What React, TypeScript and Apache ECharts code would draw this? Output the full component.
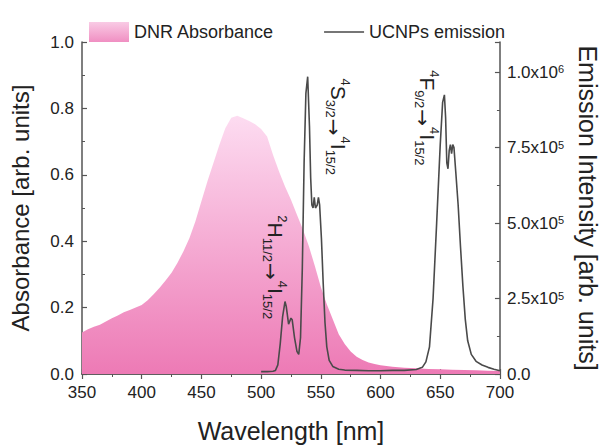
import React, { useEffect, useRef } from "react";
import * as echarts from "echarts";

// ---- Data ----
const absWavelengths = [
  350, 355, 360, 365, 370, 375, 380, 385, 390, 395, 400, 405, 410, 415, 420, 425, 430, 435, 440, 445,
  450, 455, 460, 465, 470, 475, 480, 485, 490, 495, 500, 505, 510, 515, 520, 525, 530, 535, 540, 545,
  550, 555, 560, 565, 570, 575, 580, 585, 590, 595, 600, 605, 610, 620, 630, 640, 650, 660, 670, 680,
  690, 700,
];
const absValues = [
  0.125, 0.135, 0.142, 0.148, 0.158, 0.168, 0.176, 0.186, 0.193, 0.2, 0.208, 0.222, 0.24, 0.26, 0.282,
  0.305, 0.335, 0.37, 0.41, 0.46, 0.52, 0.58, 0.635, 0.69, 0.74, 0.772, 0.778, 0.77, 0.762, 0.752, 0.738,
  0.715, 0.66, 0.61, 0.565, 0.525, 0.48, 0.435, 0.385, 0.325, 0.262, 0.21, 0.165, 0.12, 0.09, 0.068,
  0.052, 0.042, 0.035, 0.03, 0.026, 0.024, 0.022, 0.019, 0.017, 0.015, 0.014, 0.013, 0.012, 0.011, 0.01,
  0.009,
];

const emWavelengths = [
  500, 505, 510, 512, 514, 516, 518, 520, 521, 523, 525, 526, 528, 530, 531.5, 533, 534.5, 536, 537.5,
  539, 540.5, 541.5, 542.5, 543.5, 544.5, 545.5, 547, 548, 549, 550.5, 552, 553.5, 555, 557, 560, 565,
  570, 580, 590, 600, 610, 620, 630, 635, 638, 641, 644, 647, 650, 652, 653.5, 654.5, 655.5, 656.5,
  657.5, 658.5, 659.5, 660.5, 661.5, 663, 665, 667, 669, 671, 673, 676, 680, 685, 690, 695, 700,
];
const emValues = [
  8e3, 8e3, 9e3, 12e3, 30e3, 100e3, 190e3, 240e3, 225e3, 165e3, 185e3, 180e3, 120e3, 75e3, 65e3, 120e3,
  350e3, 700e3, 930e3, 985e3, 820e3, 650e3, 560e3, 550e3, 585e3, 550e3, 560e3, 585e3, 560e3, 450e3,
  300e3, 170e3, 90e3, 45e3, 25e3, 16e3, 13e3, 12e3, 11e3, 11e3, 12e3, 12e3, 15e3, 22e3, 40e3, 90e3,
  250e3, 500e3, 760e3, 900e3, 925e3, 850e3, 700e3, 680e3, 740e3, 760e3, 730e3, 760e3, 750e3, 670e3,
  560e3, 420e3, 290e3, 180e3, 110e3, 65e3, 42e3, 30e3, 22e3, 16e3, 11e3,
];

const xTicks = { min: 350, max: 700, interval: 50 };
const leftTicks = { min: 0, max: 1, interval: 0.2 };
const rightTicks = { min: 0, max: 1.1e6, interval: 2.5e5 };

// annotation anchors (top end of the rotated text): [wavelength, absorbance-axis value]
const annotations = [
  { pos: [564.5, 0.89], text: "{sup|4}{m|S}{sub|3/2}{arr|→}{sup|4}{m|I}{sub|15/2}" },
  { pos: [512, 0.478], text: "{sup|2}{m|H}{sub|11/2}{arr|→}{sup|4}{m|I}{sub|15/2}" },
  { pos: [639, 0.915], text: "{sup|4}{m|F}{sub|9/2}{arr|→}{sup|4}{m|I}{sub|15/2}" },
];

const FONT = "Liberation Sans, Arial, sans-serif";
const AXIS_COLOR = "#555";
const TEXT_COLOR = "#222";
const LINE_ICON = "path://M0,0h0.05v0.05h-0.05z M0,9.2h40v1.6h-40z M39.95,19.95h0.05v0.05h-0.05z";

export default function App() {
  const ref = useRef<HTMLDivElement>(null);

  useEffect(() => {
    if (!ref.current) return;
    const chart = echarts.init(ref.current, undefined, { renderer: "svg" });

    const pinkGrad = new echarts.graphic.LinearGradient(0, 0, 0, 1, [
      { offset: 0, color: "#fddcf1" },
      { offset: 1, color: "#ed7ab5" },
    ]);
    const legendGrad = new echarts.graphic.LinearGradient(0, 0, 0, 1, [
      { offset: 0, color: "#f9cbe5" },
      { offset: 1, color: "#f08fc2" },
    ]);

    const axisCommon = {
      axisLine: { show: true, lineStyle: { color: AXIS_COLOR, width: 1.5 } },
      axisTick: { show: true, inside: true, length: 5, lineStyle: { color: AXIS_COLOR, width: 1.2 } },
      minorTick: { show: true, splitNumber: 2, length: 3, lineStyle: { color: AXIS_COLOR, width: 1 } },
      splitLine: { show: false },
      minorSplitLine: { show: false },
    };

    const rightFormatter = (v: number) => {
      if (v === 0) return "0.0";
      const e = Math.floor(Math.log10(v) + 1e-9);
      const m = (v / Math.pow(10, e)).toFixed(1);
      return `{a|${m}x10}{s|${e}}`;
    };

    chart.setOption({
      animation: false,
      textStyle: { fontFamily: FONT },
      grid: { left: 82, right: 97, top: 42, bottom: 65 },
      legend: {
        left: 84,
        top: 17,
        itemWidth: 40,
        itemHeight: 20,
        itemGap: 50,
        textStyle: { fontFamily: FONT, fontSize: 18, color: TEXT_COLOR },
        data: [
          { name: "DNR Absorbance", icon: "rect", itemStyle: { color: legendGrad } },
          { name: "UCNPs emission", icon: LINE_ICON, itemStyle: { color: "#4a4a4a" } },
        ],
      },
      xAxis: [
        {
          type: "value",
          ...xTicks,
          position: "bottom",
          ...axisCommon,
          axisLabel: { fontSize: 17, color: TEXT_COLOR, margin: 10, fontFamily: FONT },
          name: "Wavelength [nm]",
          nameLocation: "middle",
          nameGap: 44,
          nameTextStyle: { fontSize: 25, color: TEXT_COLOR, fontFamily: FONT },
        },
        {
          type: "value",
          ...xTicks,
          position: "top",
          ...axisCommon,
          axisLabel: { show: false },
        },
      ],
      yAxis: [
        {
          type: "value",
          ...leftTicks,
          position: "left",
          ...axisCommon,
          axisLabel: {
            fontSize: 17,
            color: TEXT_COLOR,
            margin: 8,
            fontFamily: FONT,
            formatter: (v: number) => v.toFixed(1),
          },
          name: "Absorbance [arb. units]",
          nameLocation: "middle",
          nameGap: 50,
          nameTextStyle: { fontSize: 24, color: TEXT_COLOR, fontFamily: FONT },
        },
        {
          type: "value",
          ...rightTicks,
          position: "right",
          ...axisCommon,
          axisLabel: {
            fontSize: 17,
            color: TEXT_COLOR,
            margin: 7,
            fontFamily: FONT,
            showMaxLabel: false,
            formatter: rightFormatter,
            rich: {
              a: { fontSize: 17, color: TEXT_COLOR, fontFamily: FONT },
              s: { fontSize: 11, color: TEXT_COLOR, fontFamily: FONT, verticalAlign: "top", lineHeight: 11 },
            },
          },
          name: "Emission Intensity [arb. units]",
          nameLocation: "middle",
          nameRotate: -90,
          nameGap: 67,
          nameTextStyle: { fontSize: 25, color: TEXT_COLOR, fontFamily: FONT },
        },
      ],
      series: [
        {
          name: "DNR Absorbance",
          type: "line",
          xAxisIndex: 0,
          yAxisIndex: 0,
          symbol: "none",
          lineStyle: { width: 0, opacity: 0 },
          itemStyle: { color: "#f08fc2" },
          areaStyle: { color: pinkGrad, opacity: 1 },
          data: absWavelengths.map((w, i) => [w, absValues[i]]),
          z: 1,
        },
        {
          name: "UCNPs emission",
          type: "line",
          xAxisIndex: 0,
          yAxisIndex: 1,
          symbol: "none",
          lineStyle: { width: 1.6, color: "#4a4a4a" },
          itemStyle: { color: "#4a4a4a" },
          data: emWavelengths.map((w, i) => [w, emValues[i]]),
          z: 3,
        },
      ],
    });

    const rich = {
      m: { fontSize: 21, fontFamily: FONT, color: TEXT_COLOR, lineHeight: 28, verticalAlign: "middle" },
      sup: { fontSize: 13, fontFamily: FONT, color: TEXT_COLOR, lineHeight: 13, verticalAlign: "top" },
      sub: { fontSize: 13, fontFamily: FONT, color: TEXT_COLOR, lineHeight: 13, verticalAlign: "bottom" },
      arr: {
        fontSize: 20,
        fontFamily: "DejaVu Sans, sans-serif",
        color: TEXT_COLOR,
        lineHeight: 21,
        verticalAlign: "bottom",
        padding: [0, 1, 0, 1],
      },
    };

    const graphics = annotations.map((a) => {
      const p = chart.convertToPixel({ xAxisIndex: 0, yAxisIndex: 0 }, a.pos) as number[];
      return {
        type: "text",
        x: p[0],
        y: p[1],
        rotation: -Math.PI / 2,
        z: 10,
        style: {
          text: a.text,
          rich,
          align: "left",
          verticalAlign: "middle",
          fill: TEXT_COLOR,
        },
      };
    });
    chart.setOption({ graphic: graphics });

    return () => chart.dispose();
  }, []);

  return (
    <div
      ref={ref}
      style={{ position: "fixed", left: 0, top: 0, width: 608, height: 448, background: "#fff" }}
    />
  );
}
